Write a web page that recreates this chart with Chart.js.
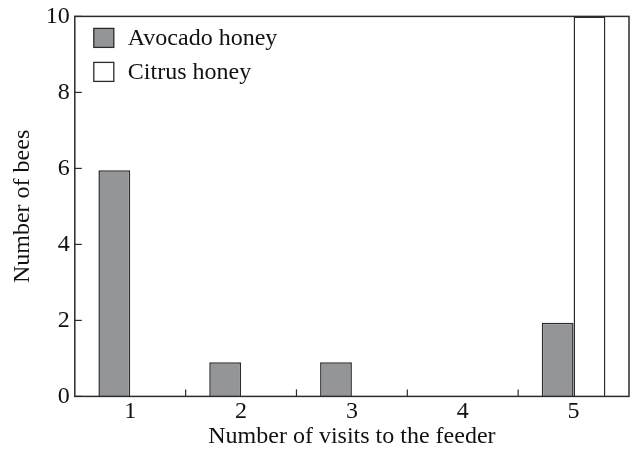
<!DOCTYPE html>
<html>
<head>
<meta charset="utf-8">
<script src="https://cdn.jsdelivr.net/npm/chart.js@4"></script>
<style>
  html, body { margin: 0; padding: 0; background: #fff; }
  #wrap { width: 632px; height: 451px; position: relative; margin-top: 5px; }
</style>
</head>
<body>
<div id="wrap"><canvas id="chart"></canvas></div>
<script>
// Data
const categories = ['1', '2', '3', '4', '5'];
const avocadoHoney = [5.95, 0.9, 0.9, null, 1.94];
const citrusHoney = [null, null, null, null, 10];
const yTicks = [0, 2, 4, 6, 8, 10];

const FONT = '"Liberation Serif", "DejaVu Serif", serif';
const SIZE = 24;
const INK = '#2b2b2b';

// frame, inward ticks and the in-plot legend
const framePlugin = {
  id: 'frame',
  afterDraw(chart) {
    const { ctx, chartArea: a, scales } = chart;
    ctx.save();
    ctx.strokeStyle = INK;
    ctx.lineWidth = 1.5;
    ctx.strokeRect(a.left, a.top, a.right - a.left, a.bottom - a.top);

    // y ticks pointing into the plot
    ctx.lineWidth = 1.2;
    yTicks.forEach(v => {
      const y = scales.y.getPixelForValue(v);
      ctx.beginPath();
      ctx.moveTo(a.left, y);
      ctx.lineTo(a.left + 7, y);
      ctx.stroke();
    });
    // x ticks between categories
    for (let i = 0; i < categories.length - 1; i++) {
      const x = (scales.x.getPixelForValue(i) + scales.x.getPixelForValue(i + 1)) / 2;
      ctx.beginPath();
      ctx.moveTo(x, a.bottom);
      ctx.lineTo(x, a.bottom - 7);
      ctx.stroke();
    }

    // legend
    ctx.font = SIZE + 'px ' + FONT;
    ctx.textBaseline = 'middle';
    chart.data.datasets.forEach((ds, i) => {
      const bx = a.left + 19, by = a.top + 12 + i * 34;
      ctx.fillStyle = ds.backgroundColor;
      ctx.fillRect(bx, by, 20, 19);
      ctx.strokeStyle = ds.borderColor;
      ctx.lineWidth = 1.3;
      ctx.strokeRect(bx, by, 20, 19);
      ctx.fillStyle = '#111';
      ctx.fillText(ds.label, bx + 34, by + 10);
    });
    ctx.restore();
  }
};

new Chart(document.getElementById('chart'), {
  type: 'bar',
  data: {
    labels: categories,
    datasets: [
      {
        label: 'Avocado honey',
        data: avocadoHoney,
        backgroundColor: '#939598',
        borderColor: INK,
        borderWidth: 1.5
      },
      {
        label: 'Citrus honey',
        data: citrusHoney,
        backgroundColor: '#ffffff',
        borderColor: INK,
        borderWidth: 1.5
      }
    ]
  },
  options: {
    responsive: true,
    maintainAspectRatio: false,
    animation: false,
    layout: { padding: { top: 3, right: 3, left: 8, bottom: 3 } },
    datasets: {
      bar: { categoryPercentage: 0.574, barPercentage: 1.0 }
    },
    plugins: {
      legend: { display: false },
      tooltip: { enabled: false }
    },
    scales: {
      x: {
        grid: { display: false },
        border: { display: false },
        ticks: { color: '#111', font: { family: FONT, size: SIZE }, padding: -7 },
        title: {
          display: true,
          text: 'Number of visits to the feeder',
          color: '#111',
          font: { family: FONT, size: SIZE },
          padding: { top: 3, bottom: 2 }
        }
      },
      y: {
        min: 0,
        max: 10,
        afterBuildTicks: axis => { axis.ticks = yTicks.map(v => ({ value: v })); },
        grid: { display: false },
        border: { display: false },
        ticks: { color: '#111', font: { family: FONT, size: SIZE }, padding: -3 },
        title: {
          display: true,
          text: 'Number of bees',
          color: '#111',
          font: { family: FONT, size: SIZE },
          padding: { top: 0, bottom: 12 }
        }
      }
    }
  },
  plugins: [framePlugin]
});
</script>
</body>
</html>
